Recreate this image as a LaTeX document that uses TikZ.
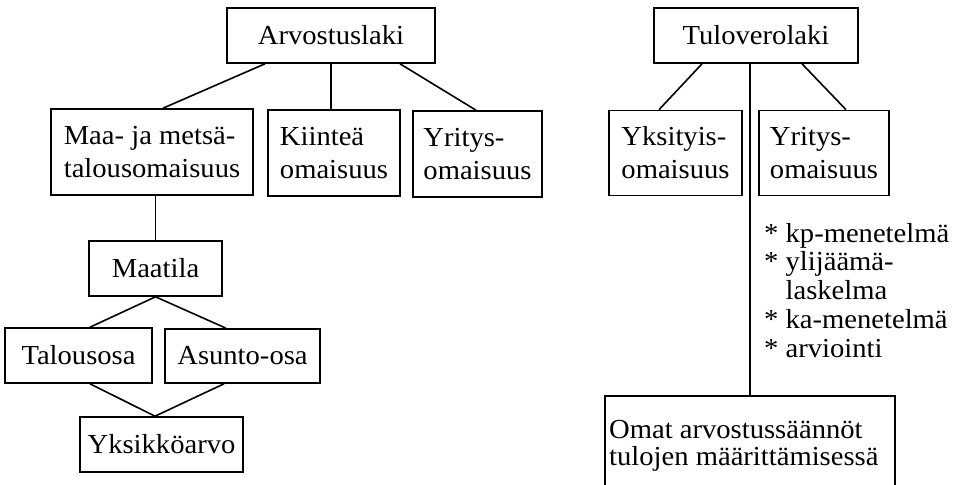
\documentclass[tikz,border=0pt]{standalone}
\usepackage{fontspec}
\setmainfont[FakeStretch=1.04]{Liberation Serif}
\usetikzlibrary{calc}
\begin{document}
\begin{tikzpicture}[x=1pt,y=-1pt,
  box/.style={draw,line width=1.6pt,inner sep=0pt,align=left,font=\fontsize{27.5}{33}\selectfont},
  txt/.style={inner sep=0pt,align=left},
  link/.style={line width=1.6pt}]
\useasboundingbox (0,0) rectangle (957,484);
\begin{scope}
\clip (0,0) rectangle (957,484);

% left tree
\node[box,minimum width=208pt,minimum height=55pt] (arv) at (331,35.5) {Arvostuslaki};
\node[box,minimum width=202pt,minimum height=86pt] (maa) at (152,152) {Maa- ja metsä-\\talousomaisuus};
\node[box,minimum width=132pt,minimum height=86pt] (kii) at (334,153) {Kiinteä\\omaisuus};
\node[box,minimum width=129pt,minimum height=86pt] (yri1) at (477.5,154) {Yritys-\\omaisuus};
\node[box,minimum width=133pt,minimum height=55pt] (maat) at (155.5,268.5) {Maatila};
\node[box,minimum width=147pt,minimum height=55pt] (tal) at (78.5,355.5) {Talousosa};
\node[box,minimum width=155pt,minimum height=54pt] (asu) at (242.5,356) {Asunto-osa};
\node[box,minimum width=163pt,minimum height=55pt] (yks) at (161.5,444.5) {Yksikköarvo};

\draw[link] ([xshift=-66pt]arv.south) -- ([xshift=11pt]maa.north);
\draw[link] (arv.south) -- (arv.south |- kii.north);
\draw[link] ([xshift=69pt]arv.south) -- ([xshift=-1.5pt]yri1.north);
\draw[link] (maat.north |- maa.south) -- (maat.north);
\draw[link] (maat.south) -- ([xshift=11.5pt]tal.north);
\draw[link] (maat.south) -- ([xshift=-16.5pt]asu.north);
\draw[link] ([xshift=11.5pt]tal.south) -- ([xshift=-6.5pt]yks.north);
\draw[link] ([xshift=-18.5pt]asu.south) -- ([xshift=-6.5pt]yks.north);

% right tree
\node[box,minimum width=204pt,minimum height=55pt] (tul) at (756,35.5) {Tuloverolaki};
\node[box,minimum width=133pt,minimum height=85pt] (yksi) at (675.5,153) {Yksityis-\\omaisuus};
\node[box,minimum width=130pt,minimum height=85pt] (yri2) at (824,153) {Yritys-\\omaisuus};
\node[box,minimum width=290pt,minimum height=110pt,anchor=north] (oma) at (750,395) {};
\node[txt,anchor=north west,font=\fontsize{27.5}{27}\selectfont] (omatext) at (609,420)
      {Omat arvostussäännöt\\tulojen määrittämisessä};
\node[txt,anchor=north west,font=\fontsize{27.5}{28.7}\selectfont] (list) at (764,223)
      {* kp-menetelmä\\* ylijäämä-\\\phantom{* }laskelma\\* ka-menetelmä\\* arviointi};

\draw[link] ([xshift=-54pt]tul.south) -- ([xshift=-16.5pt]yksi.north);
\draw[link] ([xshift=46pt]tul.south) -- ([xshift=22pt]yri2.north);
\draw[link] (oma.north |- tul.south) -- (oma.north);
\end{scope}
\end{tikzpicture}
\end{document}
